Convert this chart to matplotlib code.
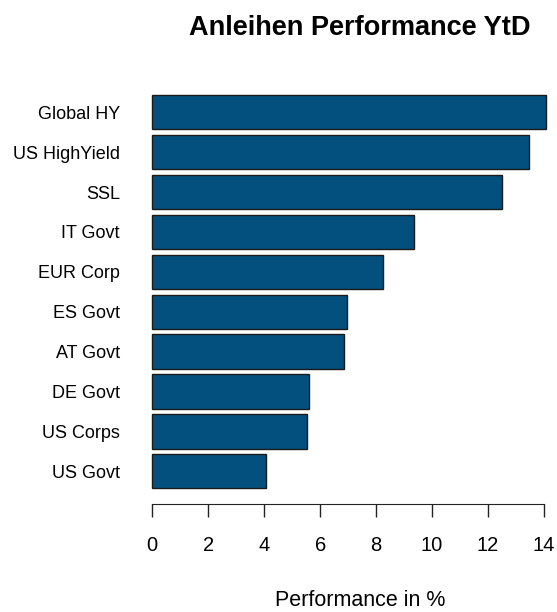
import matplotlib.pyplot as plt

plt.rcParams['font.family'] = ['Liberation Sans', 'DejaVu Sans']

# data, top to bottom as in the chart
categories = ["Global HY", "US HighYield", "SSL", "IT Govt", "EUR Corp",
              "ES Govt", "AT Govt", "DE Govt", "US Corps", "US Govt"]
performance = [14.07, 13.45, 12.49, 9.35, 8.23, 6.96, 6.85, 5.60, 5.54, 4.07]
xticks = [0, 2, 4, 6, 8, 10, 12, 14]

bar_color = "#03507F"

fig = plt.figure(figsize=(5.57, 6.12), dpi=100)
ax = fig.add_axes([146.7 / 557, 108 / 612, 405.7 / 557, (504 - 88.3) / 612])

# bottom bar is the last category
ypos = list(range(len(categories)))[::-1]
ax.barh(ypos, performance, height=0.86, color=bar_color,
        edgecolor="#1a1a1a", linewidth=1.0)

ax.set_xlim(-0.2, 14.3)
ax.set_ylim(-0.82, 9.6)

ax.set_yticks(ypos)
ax.set_yticklabels(categories, fontsize=13)
ax.tick_params(axis="y", length=0, pad=19.4)

ax.set_xticks(xticks)
ax.set_xticklabels([str(t) for t in xticks], fontsize=14.5)
ax.tick_params(axis="x", length=9.1, width=1.0, pad=14, color="#222222")

for side in ["top", "right", "left"]:
    ax.spines[side].set_visible(False)
ax.spines["bottom"].set_bounds(0, 14)
ax.spines["bottom"].set_color("#222222")

fig.text(360 / 557, 1 - 28 / 612, "Anleihen Performance YtD",
         ha="center", va="center", fontsize=19.5, fontweight="bold")
fig.text(360 / 557, 1 - 600 / 612, "Performance in %",
         ha="center", va="center", fontsize=15.5)

fig.savefig("out.png", dpi=100)
